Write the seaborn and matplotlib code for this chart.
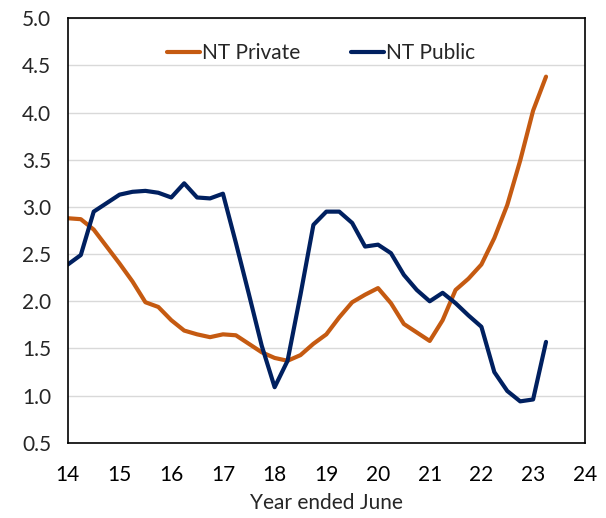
import numpy as np
import pandas as pd
import matplotlib
matplotlib.use("Agg")
import matplotlib.pyplot as plt
import seaborn as sns

# quarterly observations, year ended June
years = [14.0, 14.25, 14.5, 14.75, 15.0, 15.25, 15.5, 15.75, 16.0, 16.25,
         16.5, 16.75, 17.0, 17.25, 17.5, 17.75, 18.0, 18.25, 18.5, 18.75,
         19.0, 19.25, 19.5, 19.75, 20.0, 20.25, 20.5, 20.75, 21.0, 21.25,
         21.5, 21.75, 22.0, 22.25, 22.5, 22.75, 23.0, 23.25]

nt_private = [2.88, 2.87, 2.76, 2.58, 2.40, 2.21, 1.99, 1.94, 1.80, 1.69,
              1.65, 1.62, 1.65, 1.64, 1.55, 1.46, 1.40, 1.37, 1.43, 1.55,
              1.65, 1.83, 1.99, 2.07, 2.14, 1.98, 1.76, 1.67, 1.58, 1.80,
              2.12, 2.24, 2.39, 2.67, 3.02, 3.49, 4.02, 4.38]

nt_public = [2.39, 2.49, 2.95, 3.04, 3.13, 3.16, 3.17, 3.15, 3.10, 3.25,
             3.10, 3.09, 3.14, 2.62, 2.08, 1.53, 1.09, 1.37, 2.07, 2.81,
             2.95, 2.95, 2.83, 2.58, 2.60, 2.51, 2.28, 2.12, 2.00, 2.09,
             1.98, 1.85, 1.73, 1.25, 1.05, 0.94, 0.96, 1.57]

df = pd.DataFrame({"year": years, "NT Private": nt_private, "NT Public": nt_public})
long = df.melt(id_vars="year", var_name="series", value_name="value")

sns.set_style("white")
plt.rcParams["font.family"] = ["Lato", "DejaVu Sans"]

fig = plt.figure(figsize=(6.06, 5.18), dpi=100)
ax = fig.add_axes([0.112, 0.145, 0.853, 0.82])

sns.lineplot(data=long, x="year", y="value", hue="series",
             palette={"NT Private": "#C55A11", "NT Public": "#002060"},
             linewidth=3, ax=ax)

ax.set_xlim(14, 24)
ax.set_ylim(0.5, 5.0)
ax.set_xticks(range(14, 25))
ax.set_yticks(np.arange(0.5, 5.01, 0.5))
ax.set_yticklabels([f"{v:.1f}" for v in np.arange(0.5, 5.01, 0.5)])
ax.tick_params(axis="x", direction="out", length=6, width=1, colors="black",
               labelsize=15, pad=10)
ax.tick_params(axis="y", length=0, labelsize=15, pad=12)
ax.yaxis.grid(True, color="#D9D9D9", linewidth=1)
ax.set_axisbelow(True)
for s in ax.spines.values():
    s.set_color("black")
    s.set_linewidth(1.2)

ax.set_xlabel("Year ended June", fontsize=15, labelpad=6)
ax.set_ylabel("")

ax.legend(loc="upper center", bbox_to_anchor=(0.49, 0.985), ncol=2, frameon=False,
          fontsize=15, handlelength=1.6, handletextpad=0.1, columnspacing=2.4)

fig.savefig("out.png", dpi=100)
